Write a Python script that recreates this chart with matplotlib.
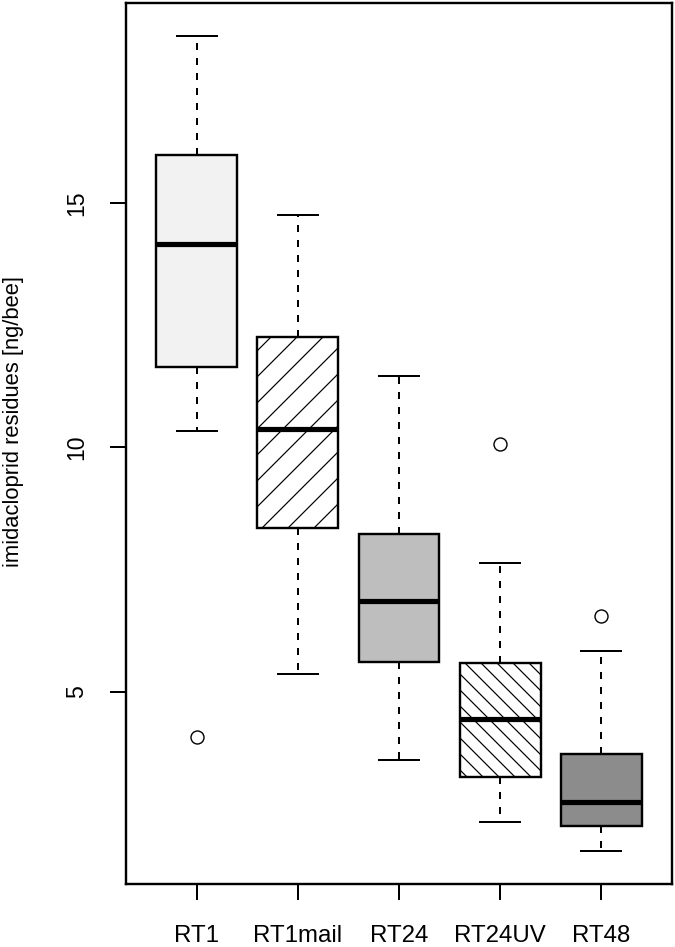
import numpy as np
import matplotlib
matplotlib.use("Agg")
import matplotlib.pyplot as plt
from matplotlib.collections import LineCollection

# box statistics
groups = ["RT1", "RT1mail", "RT24", "RT24UV", "RT48"]
whislo = [10.34, 5.35, 3.59, 2.34, 1.73]
q1 = [11.65, 8.35, 5.61, 3.26, 2.25]
med = [14.15, 10.37, 6.85, 4.43, 2.74]
q3 = [15.98, 12.25, 8.23, 5.58, 3.72]
whishi = [18.42, 14.74, 11.46, 7.62, 5.82]
fliers = [[4.07], [], [], [10.07], [6.54]]

fills = ["#f2f2f2", "white", "#bebebe", "white", "#8c8c8c"]
hatch_dir = [None, "/", None, "\\", None]
hatch_step = [0, 26, 0, 16, 0]  # px between hatch lines (horizontal)

plt.rcParams["font.family"] = ["Liberation Sans", "DejaVu Sans"]

DPI = 144
fig = plt.figure(figsize=(675 / DPI, 947 / DPI), dpi=DPI)
ax = fig.add_axes([126 / 675, 1 - 884 / 947, 546 / 675, 881 / 947])

stats = []
for g, a, b, c, d, e, f in zip(groups, whislo, q1, med, q3, whishi, fliers):
    stats.append(dict(label=g, whislo=a, q1=b, med=c, q3=d, whishi=e, fliers=f))

bp = ax.bxp(stats, positions=range(1, 6), widths=0.8, capwidths=0.4,
            patch_artist=True, showfliers=True,
            boxprops=dict(linewidth=1.2, edgecolor="black"),
            whiskerprops=dict(linewidth=1, linestyle=(0, (3.5, 4)), color="black"),
            capprops=dict(linewidth=1, color="black"),
            medianprops=dict(linewidth=2.6, color="black", solid_capstyle="butt"),
            flierprops=dict(marker="o", markersize=6.5, markerfacecolor="none",
                            markeredgecolor="black", markeredgewidth=0.7))

for patch, fc in zip(bp["boxes"], fills):
    patch.set_facecolor(fc)

# hatching done by hand so the two densities can differ
W, H = fig.get_size_inches()
for patch, d, step in zip(bp["boxes"], hatch_dir, hatch_step):
    if d is None:
        continue
    s = step / DPI
    offs = np.arange(-W, H + W, s)
    if d == "/":
        segs = [[(0, c), (W, c + W)] for c in offs]
    else:
        segs = [[(0, c), (W, c - W)] for c in offs]
    lc = LineCollection(segs, colors="black", linewidths=0.6,
                        transform=fig.dpi_scale_trans, zorder=2.05)
    ax.add_collection(lc, autolim=False)
    lc.set_clip_path(patch)

lo = min(whislo + [min(f) for f in fliers if f])
hi = max(whishi + [max(f) for f in fliers if f])
pad = 0.04 * (hi - lo)
ax.set_ylim(lo - pad, hi + pad)
ax.set_xlim(0.3, 5.7)

ax.set_yticks([5, 10, 15])
ax.tick_params(axis="both", direction="out", length=8, width=1, colors="black")
ax.tick_params(axis="x", labelsize=12, pad=12.5)
ax.tick_params(axis="y", labelsize=11.5, pad=11, labelrotation=90)
for lbl in ax.get_yticklabels():
    lbl.set_va("center")
for sp in ax.spines.values():
    sp.set_linewidth(1.2)

fig.text(14 / 675, 1 - 422 / 947, "imidacloprid residues [ng/bee]",
         rotation=90, ha="center", va="center", fontsize=11)

fig.savefig("out.png", dpi=DPI)
